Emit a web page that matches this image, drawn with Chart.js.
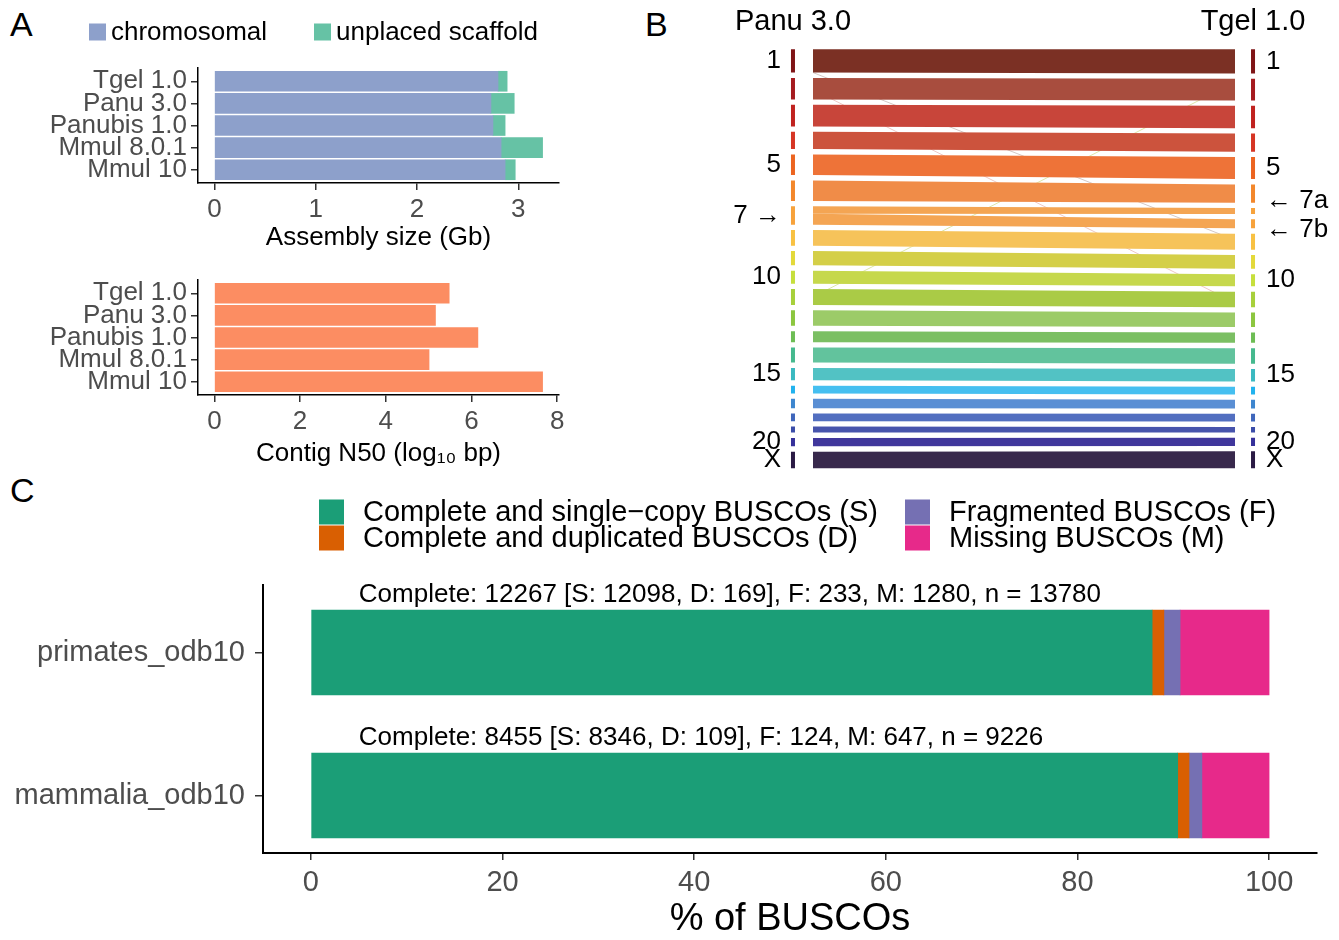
<!DOCTYPE html>
<html>
<head>
<meta charset="utf-8">
<script src="https://cdn.jsdelivr.net/npm/chart.js@4.4.0/dist/chart.umd.min.js"></script>
<style>
  body { margin: 0; background: #fff; width: 1339px; height: 940px; position: relative; overflow: hidden;
         font-family: "Liberation Sans", Arial, sans-serif; }
  canvas { position: absolute; }
  .tag { position: absolute; font-size: 34px; line-height: 1; color: #000; }
</style>
</head>
<body>
<div class="tag" style="left:10px;top:7px">A</div>
<div class="tag" style="left:645px;top:7px">B</div>
<div class="tag" style="left:10px;top:473px">C</div>
<canvas id="sizeChart" width="580" height="260" style="left:0;top:0"></canvas>
<canvas id="n50Chart" width="580" height="210" style="left:0;top:260px"></canvas>
<canvas id="synChart" width="639" height="505" style="left:700px;top:0"></canvas>
<canvas id="buscoChart" width="1339" height="470" style="left:0;top:470px"></canvas>
<script>
// ---- panel A data ----
const assemblies = ["Tgel 1.0", "Panu 3.0", "Panubis 1.0", "Mmul 8.0.1", "Mmul 10"];
const chromosomalGb = [2.80, 2.73, 2.75, 2.83, 2.87];
const unplacedGb = [0.09, 0.23, 0.12, 0.41, 0.10];
const sizeTicks = [0, 1, 2, 3];
const contigN50Log = [5.48, 5.16, 6.15, 5.01, 7.66];
const n50Ticks = [0, 2, 4, 6, 8];

// ---- panel B data (chromosome lengths, Mb) ----
const genomes = ["Panu 3.0", "Tgel 1.0"];
const panuChroms = ["1","2","3","4","5","6","7","8","9","10","11","12","13","14","15","16","17","18","19","20","X"];
const panuSizesMb = [217, 202, 201, 162, 193, 192, 171, 146, 134, 121, 149, 145, 103, 140, 116, 72, 88, 72, 56, 78, 156];
const tgelChroms = ["1","2","3","4","5","6","7a","7b","8","9","10","11","12","13","14","15","16","17","18","19","20","X"];
const tgelSizesMb = [225, 202, 210, 170, 205, 170, 56, 84, 150, 128, 114, 145, 135, 97, 145, 116, 71, 82, 72, 52, 75, 160];
const panuShown = ["1", "5", "7", "10", "15", "20", "X"];
const tgelShown = ["1", "5", "7a", "7b", "10", "15", "20", "X"];
const arrowed = ["7", "7a", "7b"];
// off-diagonal links: [Panu chrom, pos Mb, Tgel chrom, pos Mb]
const links = [["1", 217, "8", 60], ["2", 109, "11", 104], ["11", 74, "2", 31]];

// ---- panel C data ----
const buscoSets = ["primates_odb10", "mammalia_odb10"];
const buscoSingle = [12098, 8346];
const buscoDuplicated = [169, 109];
const buscoFragmented = [233, 124];
const buscoMissing = [1280, 647];
const buscoTotal = [13780, 9226];
const buscoTicks = [0, 20, 40, 60, 80, 100];

const FONT = '"Liberation Sans", Arial, "DejaVu Sans", sans-serif';
const GREY = "#4d4d4d";
Chart.defaults.font.family = FONT;
Chart.defaults.color = GREY;
Chart.defaults.animation = false;
Chart.defaults.events = [];
Chart.defaults.responsive = false;
Chart.defaults.plugins.legend.display = false;
Chart.defaults.plugins.tooltip.enabled = false;

// ggplot-like legend drawn at fixed spots
const boxLegend = {
  id: "boxLegend",
  afterDraw(chart, args, opts) {
    const ctx = chart.ctx;
    ctx.save();
    ctx.font = opts.size + "px " + FONT;
    ctx.textBaseline = "middle";
    opts.items.forEach(it => {
      const ds = chart.data.datasets[it.ds];
      ctx.fillStyle = ds.backgroundColor;
      ctx.fillRect(it.x, it.y - opts.box / 2, opts.box, opts.box);
      ctx.fillStyle = "#000";
      ctx.fillText(ds.label, it.x + opts.box + opts.gap, it.y + 1);
    });
    ctx.restore();
  }
};

const indexTicks = n => s => { s.ticks = Array.from({length: n}, (_, i) => ({value: i})); };
const tickGrid = { display: true, drawOnChartArea: false, drawTicks: true, tickLength: 7, color: "#333", lineWidth: 1.5, offset: false };
const axisLine = { display: true, color: "#000", width: 1.5 };

// ---- A: assembly size ----
new Chart(document.getElementById("sizeChart"), {
  type: "bar",
  data: {
    datasets: [
      { label: "chromosomal", data: chromosomalGb.map((v, i) => ({x: v, y: i})), backgroundColor: "#8da0cb", barThickness: 20 },
      { label: "unplaced scaffold", data: unplacedGb.map((v, i) => ({x: v, y: i})), backgroundColor: "#66c2a5", barThickness: 20 }
    ]
  },
  options: {
    indexAxis: "y",
    layout: { padding: { top: 68, right: 21 } },
    scales: {
      x: {
        type: "linear", stacked: true, min: -0.162, max: 3.402,
        afterBuildTicks: s => { s.ticks = sizeTicks.map(v => ({value: v})); },
        afterFit: s => { s.height = 77; },
        grid: tickGrid, border: axisLine,
        ticks: { font: {size: 26}, padding: 4, autoSkip: false, maxRotation: 0 },
        title: { display: true, text: "Assembly size (Gb)", color: "#000", font: {size: 26}, padding: {top: 0, bottom: 7} }
      },
      y: {
        type: "linear", stacked: true, reverse: true, offset: false, min: -0.6, max: 4.6,
        afterBuildTicks: indexTicks(assemblies.length),
        afterFit: s => { s.width = 198; },
        grid: tickGrid, border: axisLine,
        ticks: { callback: v => assemblies[v], font: {size: 26}, padding: 4, autoSkip: false }
      }
    },
    plugins: {
      boxLegend: { size: 26, box: 17, gap: 5, items: [{ds: 0, x: 89, y: 32}, {ds: 1, x: 314, y: 32}] }
    }
  },
  plugins: [boxLegend]
});

// ---- A: contig N50 ----
new Chart(document.getElementById("n50Chart"), {
  type: "bar",
  data: {
    datasets: [
      { label: "Contig N50", data: contigN50Log.map((v, i) => ({x: v, y: i})), backgroundColor: "#fc8d62", barThickness: 20 }
    ]
  },
  options: {
    indexAxis: "y",
    layout: { padding: { top: 20, right: 21 } },
    scales: {
      x: {
        type: "linear", min: -0.383, max: 8.043,
        afterBuildTicks: s => { s.ticks = n50Ticks.map(v => ({value: v})); },
        afterFit: s => { s.height = 75; },
        grid: tickGrid, border: axisLine,
        ticks: { font: {size: 26}, padding: 4, autoSkip: false, maxRotation: 0 },
        title: { display: true, text: "Contig N50 (log\u2081\u2080 bp)", color: "#000", font: {size: 26}, padding: {top: 0, bottom: 1} }
      },
      y: {
        type: "linear", reverse: true, offset: false, min: -0.6, max: 4.6,
        afterBuildTicks: indexTicks(assemblies.length),
        afterFit: s => { s.width = 198; },
        grid: tickGrid, border: axisLine,
        ticks: { callback: v => assemblies[v], font: {size: 26}, padding: 4, autoSkip: false }
      }
    }
  }
});

// ---- B: synteny ----
const CHROM_GAP_MB = 50;
const LEFT_COL = -0.0474, RIGHT_COL = 1.0427;
const bandColors = ["#7b3024", "#a84d3e", "#c8453a", "#cc533d", "#ee7338", "#f08c48", "#f4a553", "#f6c35a",
  "#d4cf48", "#c6d84c", "#aacb46", "#9ccb68", "#7bbf63", "#62c39d", "#52c2c4", "#45bff0",
  "#5a8fd4", "#526fc0", "#4754ac", "#40379c", "#38294c"];
const tickColors = ["#7f1416", "#a51b1f", "#c0221f", "#d63524", "#ec6420", "#f3872b", "#f7a23b", "#f8c142",
  "#e3d93a", "#c6df3c", "#a7d03b", "#8cc63f", "#6dbd54", "#45b98e", "#3ab9c0", "#20b2ee",
  "#3d86cf", "#3f66bb", "#3a4ca8", "#35309a", "#2a1a44"];
const linkColors = ["rgba(110,70,60,0.3)", "rgba(200,70,60,0.3)", "rgba(180,200,60,0.45)"];
const MB_PER_PX = 1 / 0.10707;
const labelNudgePx = { "7a": -10, "7b": 6 };

function layoutChroms(sizes) {
  let pos = 0;
  return sizes.map(s => { const seg = [pos, pos + s]; pos += s + CHROM_GAP_MB; return seg; });
}
const panuSeg = layoutChroms(panuSizesMb);
const tgelSeg = layoutChroms(tgelSizesMb);
const baseOf = c => c.replace(/[ab]$/, "");
const mid = seg => (seg[0] + seg[1]) / 2;

const synDatasets = [];
tgelChroms.forEach((c, j) => {
  const i = panuChroms.indexOf(baseOf(c));
  const sibs = tgelChroms.map((t, k) => k).filter(k => baseOf(tgelChroms[k]) === baseOf(c));
  const sibTotal = sibs.reduce((a, k) => a + tgelSizesMb[k], 0);
  const before = sibs.filter(k => k < j).reduce((a, k) => a + tgelSizesMb[k], 0);
  const pLen = panuSeg[i][1] - panuSeg[i][0];
  const ls = panuSeg[i][0] + pLen * before / sibTotal;
  const le = panuSeg[i][0] + pLen * (before + tgelSizesMb[j]) / sibTotal;
  const col = bandColors[i];
  synDatasets.push({ data: [{x: 0, y: ls}, {x: 1, y: tgelSeg[j][0]}], showLine: true, borderColor: "rgba(0,0,0,0)", borderWidth: 0, fill: false, backgroundColor: col });
  synDatasets.push({ data: [{x: 0, y: le}, {x: 1, y: tgelSeg[j][1]}], showLine: true, borderColor: "rgba(0,0,0,0)", borderWidth: 0, fill: "-1", backgroundColor: col });
});
links.forEach((l, n) => {
  const y0 = panuSeg[panuChroms.indexOf(l[0])][0] + l[1];
  const y1 = tgelSeg[tgelChroms.indexOf(l[2])][0] + l[3];
  synDatasets.push({ data: [{x: 0, y: y0}, {x: 1, y: y1}], showLine: true, borderColor: linkColors[n], borderWidth: 1, fill: false });
});
panuSeg.forEach((seg, i) => {
  synDatasets.push({ data: [{x: LEFT_COL, y: seg[0]}, {x: LEFT_COL, y: seg[1]}], showLine: true, borderColor: tickColors[i], borderWidth: 4, borderCapStyle: "butt", fill: false });
});
tgelSeg.forEach((seg, j) => {
  const col = tickColors[panuChroms.indexOf(baseOf(tgelChroms[j]))];
  synDatasets.push({ data: [{x: RIGHT_COL, y: seg[0]}, {x: RIGHT_COL, y: seg[1]}], showLine: true, borderColor: col, borderWidth: 4, borderCapStyle: "butt", fill: false });
});

const chromLabel = (c, side) => arrowed.includes(c) ? (side === "left" ? c + " \u2192" : "\u2190 " + c) : c;
const noGrid = { display: false, drawTicks: false };

new Chart(document.getElementById("synChart"), {
  type: "scatter",
  data: { datasets: synDatasets },
  options: {
    layout: { padding: { bottom: 25 } },
    elements: { point: { radius: 0 }, line: { tension: 0 } },
    scales: {
      x: {
        type: "linear", position: "top", min: -0.0592, max: 1.0545,
        grid: noGrid, border: { display: false },
        afterBuildTicks: s => { s.ticks = [{value: LEFT_COL}, {value: RIGHT_COL}]; },
        afterFit: s => { s.height = 40; },
        ticks: { callback: (v, i) => genomes[i], color: "#000", font: {size: 29}, padding: 1, autoSkip: false, maxRotation: 0 }
      },
      y: {
        type: "linear", position: "left", reverse: true, min: -86.9, max: 4022.6,
        grid: noGrid, border: { display: false },
        afterBuildTicks: s => { s.ticks = panuShown.map(c => ({value: mid(panuSeg[panuChroms.indexOf(c)])})); },
        afterFit: s => { s.width = 88; },
        ticks: { callback: (v, i) => chromLabel(panuShown[i], "left"), color: "#000", font: {size: 26}, padding: 7, autoSkip: false }
      },
      yR: {
        type: "linear", position: "right", reverse: true, min: -86.9, max: 4022.6,
        grid: noGrid, border: { display: false },
        afterBuildTicks: s => {
          s.ticks = tgelShown.map(c => ({value: mid(tgelSeg[tgelChroms.indexOf(c)]) + (labelNudgePx[c] || 0) * MB_PER_PX}));
        },
        afterFit: s => { s.width = 81; },
        ticks: { callback: (v, i) => chromLabel(tgelShown[i], "right"), color: "#000", font: {size: 26}, padding: 8, autoSkip: false }
      }
    }
  }
});

// ---- C: BUSCO ----
const pct = (arr) => arr.map((v, i) => ({x: v / buscoTotal[i] * 100, y: i}));
const buscoNotes = {
  id: "buscoNotes",
  afterDatasetsDraw(chart, args, opts) {
    const {ctx, scales} = chart;
    ctx.save();
    ctx.font = opts.size + "px " + FONT;
    ctx.fillStyle = "#000";
    ctx.textBaseline = "middle";
    ctx.textAlign = "left";
    buscoSets.forEach((b, i) => {
      const s = buscoSingle[i], d = buscoDuplicated[i];
      const txt = `Complete: ${s + d} [S: ${s}, D: ${d}], F: ${buscoFragmented[i]}, M: ${buscoMissing[i]}, n = ${buscoTotal[i]}`;
      ctx.fillText(txt, scales.x.getPixelForValue(opts.x), scales.y.getPixelForValue(i + opts.dy));
    });
    ctx.restore();
  }
};

new Chart(document.getElementById("buscoChart"), {
  type: "bar",
  data: {
    datasets: [
      { label: "Complete and single\u2212copy BUSCOs (S)", data: pct(buscoSingle), backgroundColor: "#1b9e77" },
      { label: "Complete and duplicated BUSCOs (D)", data: pct(buscoDuplicated), backgroundColor: "#d95f02" },
      { label: "Fragmented BUSCOs (F)", data: pct(buscoFragmented), backgroundColor: "#7570b3" },
      { label: "Missing BUSCOs (M)", data: pct(buscoMissing), backgroundColor: "#e7298a" }
    ]
  },
  options: {
    indexAxis: "y",
    datasets: { bar: { barThickness: 85 } },
    layout: { padding: { top: 115, right: 22 } },
    scales: {
      x: {
        type: "linear", stacked: true, min: -5, max: 105,
        afterBuildTicks: s => { s.ticks = buscoTicks.map(v => ({value: v})); },
        afterFit: s => { s.height = 87; },
        grid: tickGrid, border: { display: true, color: "#000", width: 2 },
        ticks: { font: {size: 29}, padding: 6, autoSkip: false, maxRotation: 0 },
        title: { display: true, text: "% of BUSCOs", color: "#000", font: {size: 38, lineHeight: 1}, padding: {top: 0, bottom: 1} }
      },
      y: {
        type: "linear", stacked: true, reverse: true, offset: false, min: -0.472, max: 1.402,
        afterBuildTicks: indexTicks(buscoSets.length),
        afterFit: s => { s.width = 263; },
        grid: { ...tickGrid, tickLength: 8 }, border: { display: true, color: "#000", width: 2 },
        ticks: { callback: v => buscoSets[v], font: {size: 29}, padding: 10, autoSkip: false }
      }
    },
    plugins: {
      boxLegend: { size: 29, box: 25, gap: 19, items: [
        {ds: 0, x: 319, y: 42}, {ds: 1, x: 319, y: 68}, {ds: 2, x: 905, y: 42}, {ds: 3, x: 905, y: 68}
      ] },
      buscoNotes: { size: 26, x: 5, dy: -0.40 }
    }
  },
  plugins: [boxLegend, buscoNotes]
});
</script>
</body>
</html>
